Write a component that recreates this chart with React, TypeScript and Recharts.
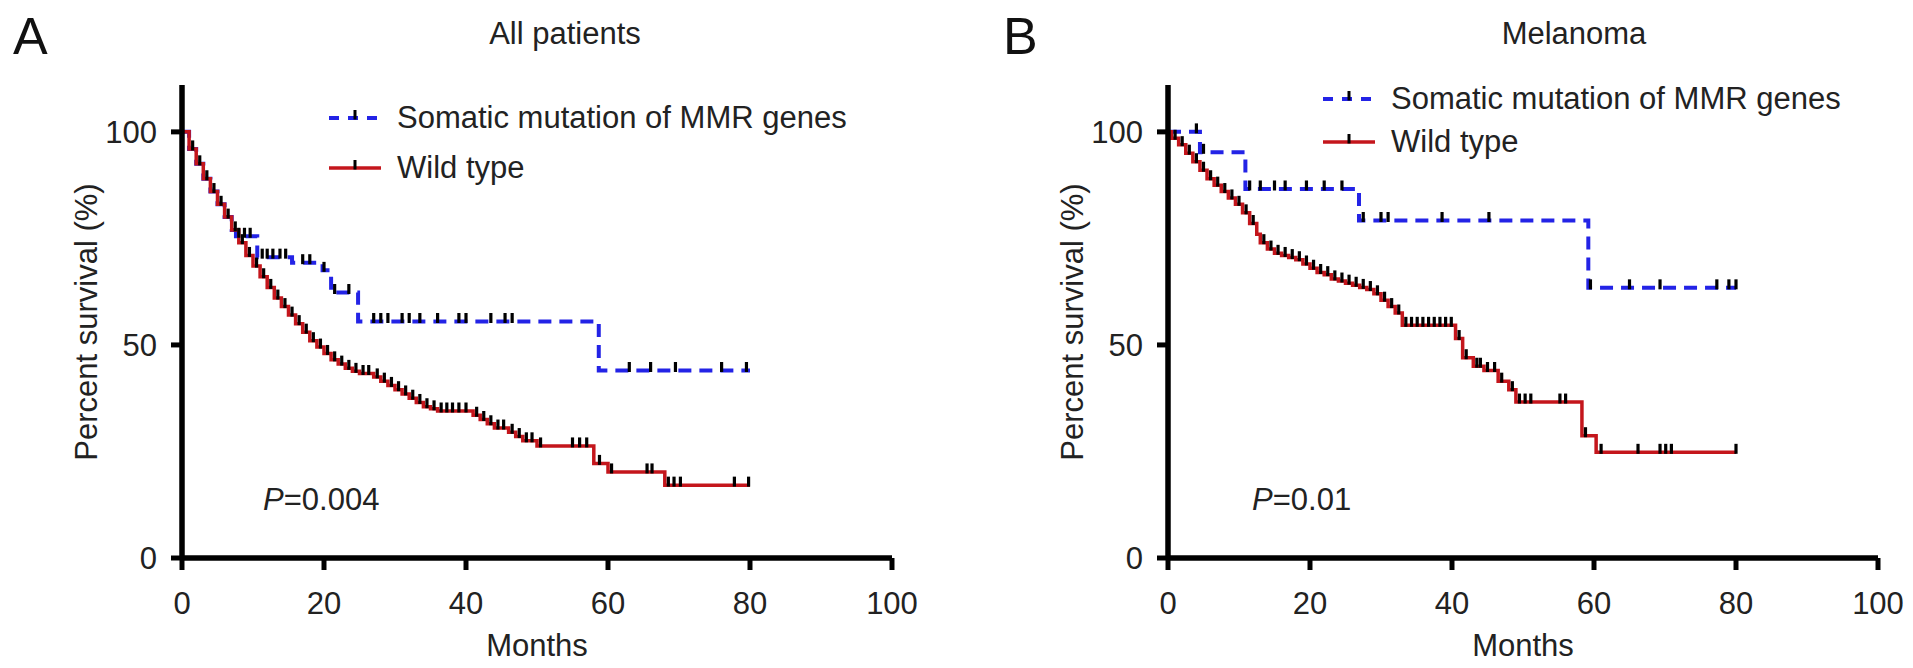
import React from "react";
import { ComposedChart, Line, XAxis, YAxis } from "recharts";

// ---- Panel A: all patients ----
const allMutMonths = [0, 1, 2, 3, 4, 5, 6, 7, 7.6, 10.6, 15.5, 19.8, 21, 24.8, 58.7, 80];
const allMutSurv = [100, 96, 92.5, 89, 86, 83, 80, 77, 75.5, 70.6, 69.3, 67.5, 62.3, 55.5, 44, 44];
const allMutCensored: [number, number][] = [
  [8, 75.5], [8.8, 75.5], [9.6, 75.5], [11.3, 70.6], [12, 70.6], [12.8, 70.6], [13.8, 70.6],
  [14.6, 70.6], [17, 69.3], [18, 69.3], [20, 67.5], [21.5, 62.3], [23.5, 62.3], [27, 55.5],
  [28, 55.5], [29, 55.5], [31, 55.5], [32, 55.5], [33.5, 55.5], [36, 55.5], [39, 55.5],
  [40, 55.5], [43.5, 55.5], [45.5, 55.5], [46.5, 55.5], [63, 44], [66, 44], [69.5, 44],
  [76, 44], [79.5, 44],
];

const allWildMonths = [0, 1, 2, 3, 4, 5, 6, 7, 8, 9, 10, 11, 12, 13, 14, 15, 16, 17, 18, 19, 20, 21, 22, 23, 24, 25, 27, 28, 29, 30, 31, 32, 33, 34, 35, 36, 41, 42, 43, 44, 46, 47, 48, 50, 58, 60, 68, 80];
const allWildSurv = [100, 96, 92.5, 89, 86, 83, 80, 77, 74, 71, 68.5, 66, 63.5, 61, 59, 57, 55, 53, 51, 49.5, 48, 46.5, 45.5, 44.5, 43.8, 43.3, 42.5, 41.5, 40.5, 39.5, 38.5, 37.5, 36.5, 35.5, 35, 34.5, 33.5, 32.5, 31.5, 30.5, 29.5, 28.5, 27.5, 26.3, 22.2, 20.2, 17.1, 17.1];
const allWildCensored: [number, number][] = [
  [1.5, 96], [2.5, 92.5], [3.5, 89], [4.5, 86], [5.5, 83], [6.5, 80], [7.5, 77], [8.5, 74],
  [9.5, 71], [10.5, 68.5], [11.5, 66], [12.5, 63.5], [13.5, 61], [14.5, 59], [15.5, 57],
  [16.5, 55], [17.5, 53], [18.5, 51], [19.5, 49.5], [20.5, 48], [21.5, 46.5], [22.5, 45.5],
  [23.5, 44.5], [24.5, 43.8], [25.5, 43.3], [26.3, 43.3], [27.5, 42.5], [28.5, 41.5],
  [29.5, 40.5], [30.5, 39.5], [31.5, 38.5], [32.5, 37.5], [33.5, 36.5], [34.5, 35.5],
  [35.5, 35], [36.5, 34.5], [37.3, 34.5], [38.1, 34.5], [39, 34.5], [40, 34.5], [41.5, 33.5],
  [42.5, 32.5], [43.5, 31.5], [44.5, 30.5], [45.3, 30.5], [46.5, 29.5], [47.5, 28.5],
  [48.5, 27.5], [49.3, 27.5], [50.5, 26.3], [55, 26.3], [56, 26.3], [57, 26.3], [58.8, 22.2],
  [60.5, 20.2], [65.5, 20.2], [66.2, 20.2], [68.5, 17.1], [69.3, 17.1], [70.2, 17.1],
  [77.8, 17.1], [79.8, 17.1],
];

// ---- Panel B: melanoma ----
const melMutMonths = [0, 4.5, 10.9, 26.9, 59.2, 80];
const melMutSurv = [100, 95.2, 86.6, 79.2, 63.4, 63.4];
const melMutCensored: [number, number][] = [
  [4, 100], [5, 95.2], [11.5, 86.6], [13, 86.6], [15, 86.6], [16.5, 86.6], [19.5, 86.6],
  [22, 86.6], [24.5, 86.6], [27.5, 79.2], [30, 79.2], [31, 79.2], [38.6, 79.2], [45.2, 79.2],
  [59.5, 63.4], [65, 63.4], [69.3, 63.4], [77.3, 63.4], [79, 63.4], [80, 63.4],
];

const melWildMonths = [0, 0.5, 1.5, 2.5, 3.5, 4.5, 5.5, 6.5, 7.5, 8.5, 9.5, 10.5, 11.5, 12.5, 13, 14, 15, 16, 17, 18, 19, 20, 21, 22, 23, 24, 25, 26, 27, 28, 29, 30, 31, 32, 33, 40.5, 41.5, 43, 44.5, 46.5, 48, 49, 58.3, 60.3, 80];
const melWildSurv = [100, 98.5, 97, 95, 93, 91, 89, 87.5, 86, 84.5, 83, 81, 78.5, 76, 74, 72.5, 71.5, 71, 70.5, 70, 69, 68, 67, 66.5, 65.5, 65, 64.5, 64, 63.5, 63, 62, 60.5, 59, 57.5, 54.6, 51.5, 47, 45, 44, 41.5, 39.5, 36.6, 28.7, 24.8, 24.8];
const melWildCensored: [number, number][] = [
  [1, 98.5], [2, 97], [3, 95], [4, 93], [5, 91], [6, 89], [7, 87.5], [8, 86], [9, 84.5],
  [10, 83], [11, 81], [12, 78.5], [13.5, 74], [14.5, 72.5], [15.5, 71.5], [16.5, 71],
  [17.5, 70.5], [18.5, 70], [19.5, 69], [20.5, 68], [21.5, 67], [22.5, 66.5], [23.5, 65.5],
  [24.5, 65], [25.5, 64.5], [26.5, 64], [27.5, 63.5], [28.5, 63], [29.5, 62], [30.5, 60.5],
  [31.5, 59], [32.5, 57.5], [33.5, 54.6], [34.3, 54.6], [35.1, 54.6], [35.9, 54.6],
  [36.7, 54.6], [37.5, 54.6], [38.3, 54.6], [39.1, 54.6], [39.9, 54.6], [41, 51.5], [42, 47],
  [43.5, 45], [44, 45], [45, 44], [46, 44], [47, 41.5], [48.5, 39.5], [49.5, 36.6],
  [50.3, 36.6], [51.1, 36.6], [55.2, 36.6], [56, 36.6], [58.8, 28.7], [61, 24.8], [66.2, 24.8],
  [69.3, 24.8], [70.1, 24.8], [70.9, 24.8], [80, 24.8],
];

const xTicks = [0, 20, 40, 60, 80, 100];
const yTicks = [0, 50, 100];
const legendNames = ["Somatic mutation of MMR genes", "Wild type"];

const FONT = "'Liberation Sans', Arial, Helvetica, sans-serif";
const BLUE = "#2323e6";
const RED = "#c4161c";

const rows = (m: number[], s: number[]) => m.map((v, i) => ({ m: v, s: s[i] }));
const cRows = (c: [number, number][]) => c.map(([m, s]) => ({ m, s }));

function CensorTick(props: any) {
  const { cx, cy, index } = props;
  if (cx == null || cy == null) return null;
  return <line key={index} x1={cx} x2={cx} y1={cy + 1.5} y2={cy - 8.5} stroke="#000" strokeWidth={3.2} />;
}

function LegendItem({ dashed, color, label }: { dashed: boolean; color: string; label: string }) {
  return (
    <div style={{ display: "flex", alignItems: "center", height: 36 }}>
      <svg width={68} height={36} style={{ flex: "none" }}>
        <line x1={0} x2={52} y1={18} y2={18} stroke={color} strokeWidth={dashed ? 4 : 3.5}
          strokeDasharray={dashed ? "10 9" : undefined} />
        <line x1={26} x2={26} y1={19.5} y2={10} stroke="#000" strokeWidth={3} />
      </svg>
      <span style={{ fontSize: 31, fontFamily: FONT, color: "#222", whiteSpace: "nowrap" }}>{label}</span>
    </div>
  );
}

interface PanelProps {
  left: number;
  width: number;
  plotLeft: number;
  plotRight: number;
  letter: string;
  title: string;
  titleX: number;
  pText: string;
  pX: number;
  legendX: number;
  legendY: number;
  legendGap: number;
  mut: { m: number; s: number }[];
  wild: { m: number; s: number }[];
  mutC: { m: number; s: number }[];
  wildC: { m: number; s: number }[];
}

function Panel(p: PanelProps) {
  const yAxisW = 70;
  const plotTop = 85;
  const plotBottom = 558;
  const xAxisH = 60;
  const height = 668;
  const midX = (p.plotLeft + p.plotRight) / 2 - p.left;
  const midY = (plotTop + plotBottom) / 2;
  const txt: React.CSSProperties = { position: "absolute", fontFamily: FONT, color: "#222", whiteSpace: "nowrap", lineHeight: 1 };
  return (
    <div style={{ position: "absolute", left: p.left, top: 0, width: p.width, height }}>
      <ComposedChart
        width={p.width}
        height={height}
        margin={{ top: plotTop, left: p.plotLeft - p.left - yAxisW, right: p.left + p.width - p.plotRight, bottom: height - plotBottom - xAxisH }}
      >
        <XAxis type="number" dataKey="m" domain={[0, 100]} ticks={xTicks} height={xAxisH}
          axisLine={{ stroke: "#000", strokeWidth: 5.5 }} tickLine={{ stroke: "#000", strokeWidth: 5 }}
          tickSize={12} tickMargin={22} tick={{ fill: "#222", fontSize: 31, fontFamily: FONT }} />
        <YAxis type="number" domain={[0, 111]} ticks={yTicks} width={yAxisW}
          axisLine={{ stroke: "#000", strokeWidth: 5.5 }} tickLine={{ stroke: "#000", strokeWidth: 5 }}
          tickSize={11} tickMargin={14} tick={{ fill: "#222", fontSize: 31, fontFamily: FONT }} />
        <Line data={p.mut} dataKey="s" type="stepAfter" stroke={BLUE} strokeWidth={4} strokeDasharray="13 8"
          dot={false} activeDot={false} isAnimationActive={false} />
        <Line data={p.wild} dataKey="s" type="stepAfter" stroke={RED} strokeWidth={3.5}
          dot={false} activeDot={false} isAnimationActive={false} />
        <Line data={p.mutC} dataKey="s" stroke="none" dot={<CensorTick />} activeDot={false} isAnimationActive={false} />
        <Line data={p.wildC} dataKey="s" stroke="none" dot={<CensorTick />} activeDot={false} isAnimationActive={false} />
      </ComposedChart>
      <div style={{ ...txt, left: (p.left === 0 ? 13 : 1003) - p.left, top: 10, fontSize: 52, color: "#111" }}>{p.letter}</div>
      <div style={{ ...txt, left: p.titleX - p.left, top: 18, fontSize: 31, transform: "translateX(-50%)" }}>{p.title}</div>
      <div style={{ ...txt, left: p.plotLeft - p.left - 96, top: midY, fontSize: 31, transform: "translate(-50%, -50%) rotate(-90deg)" }}>
        Percent survival (%)
      </div>
      <div style={{ ...txt, left: midX, top: 630, fontSize: 31, transform: "translateX(-50%)" }}>Months</div>
      <div style={{ ...txt, left: p.pX - p.left, top: 484, fontSize: 31 }}>
        <i>P</i>=<span>{p.pText}</span>
      </div>
      <div style={{ position: "absolute", left: p.legendX - p.left, top: p.legendY - 18, display: "flex", flexDirection: "column", gap: p.legendGap }}>
        <LegendItem dashed color={BLUE} label={legendNames[0]} />
        <LegendItem dashed={false} color={RED} label={legendNames[1]} />
      </div>
    </div>
  );
}

export default function App() {
  return (
    <div style={{ position: "absolute", left: 0, top: 0, width: 1913, height: 668, background: "#fff" }}>
      <Panel left={0} width={956} plotLeft={182} plotRight={892} letter="A" title="All patients" titleX={565}
        pText="0.004" pX={263} legendX={329} legendY={118} legendGap={14}
        mut={rows(allMutMonths, allMutSurv)} wild={rows(allWildMonths, allWildSurv)}
        mutC={cRows(allMutCensored)} wildC={cRows(allWildCensored)} />
      <Panel left={956} width={957} plotLeft={1168} plotRight={1878} letter="B" title="Melanoma" titleX={1574}
        pText="0.01" pX={1252} legendX={1323} legendY={99} legendGap={7}
        mut={rows(melMutMonths, melMutSurv)} wild={rows(melWildMonths, melWildSurv)}
        mutC={cRows(melMutCensored)} wildC={cRows(melWildCensored)} />
    </div>
  );
}
